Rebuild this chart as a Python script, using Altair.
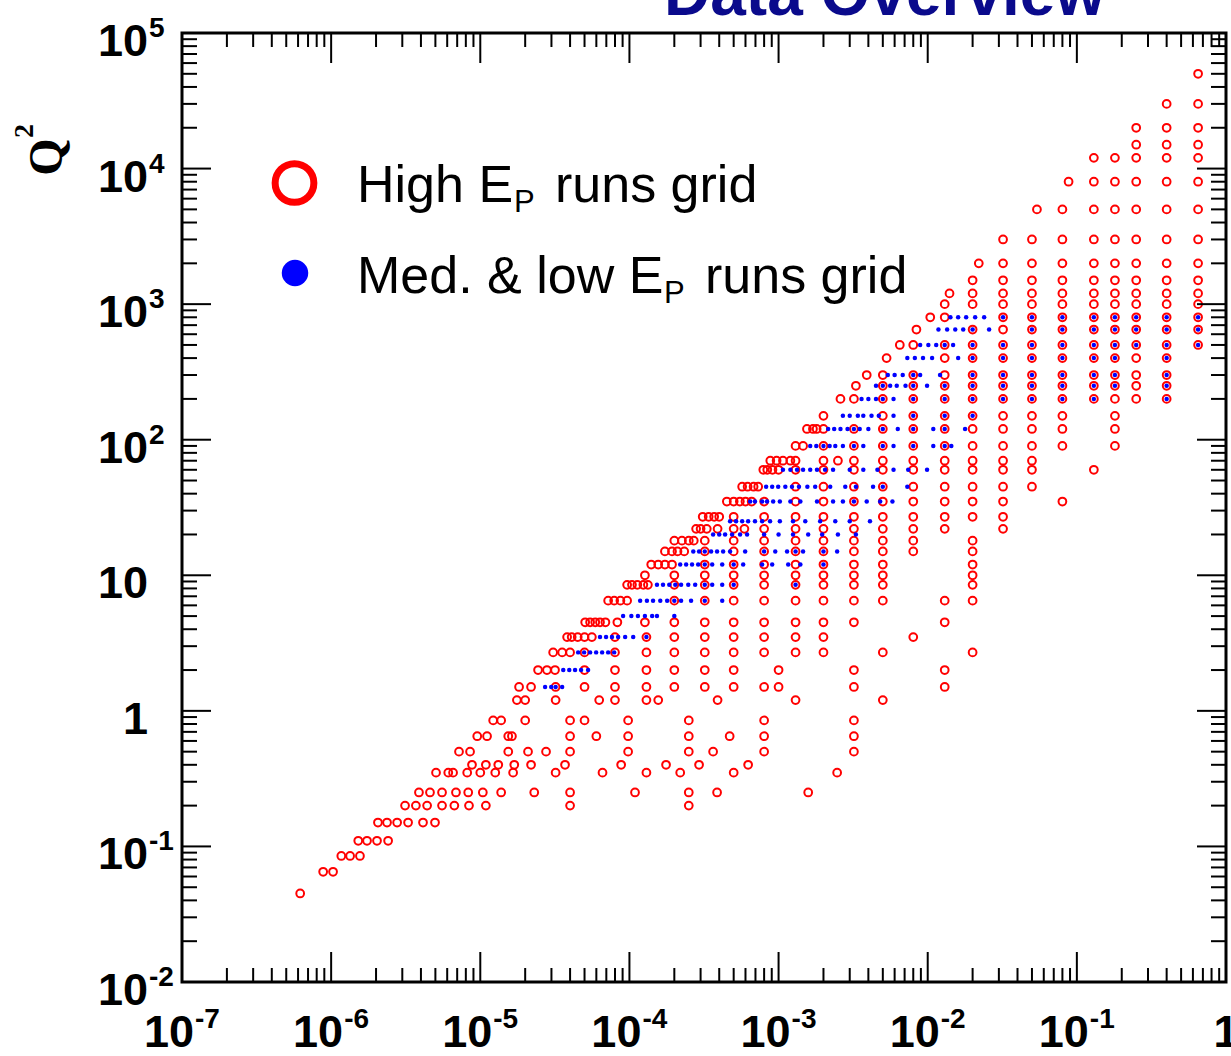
import altair as alt
import pandas as pd

# ---------------------------------------------------------------------------
# Kinematic grid: Q^2 rows with the Bjorken-x values measured in each row
# ---------------------------------------------------------------------------
HIGH_EP_TOP = [
    (50000, [0.65]),
    (30000, [0.4, 0.65]),
    (20000, [0.25, 0.4, 0.65]),
    (15000, [0.25, 0.4, 0.65]),
    (12000, [0.13, 0.18, 0.25, 0.4, 0.65]),
    (8000, [0.088, 0.13, 0.18, 0.25, 0.4, 0.65]),
    (5000, [0.054, 0.08, 0.13, 0.18, 0.25, 0.4, 0.65]),
    (3000, [0.032, 0.05, 0.08, 0.13, 0.18, 0.25, 0.4, 0.65]),
    (2000, [0.022, 0.032, 0.05, 0.08, 0.13, 0.18, 0.25, 0.4, 0.65]),
    (1500, [0.02, 0.032, 0.05, 0.08, 0.13, 0.18, 0.25, 0.4, 0.65]),
    (1200, [0.014, 0.02, 0.032, 0.05, 0.08, 0.13, 0.18, 0.25, 0.4, 0.65]),
    (1000, [0.013, 0.02, 0.032, 0.05, 0.08, 0.13, 0.18, 0.25, 0.4, 0.65]),
]

HIGH_EP_MIDDLE = [
    (800, [0.0104, 0.013, 0.032, 0.05, 0.08, 0.13, 0.18, 0.25, 0.4, 0.65]),
    (650, [0.0084, 0.02, 0.032, 0.05, 0.08, 0.13, 0.18, 0.25, 0.4, 0.65]),
    (500, [0.0065, 0.008, 0.013, 0.02, 0.032, 0.05, 0.08, 0.13, 0.18, 0.25, 0.4, 0.65]),
    (400, [0.0053, 0.013, 0.02, 0.032, 0.05, 0.08, 0.13, 0.18, 0.25, 0.4]),
    (300, [0.0039, 0.005, 0.008, 0.013, 0.02, 0.032, 0.05, 0.08, 0.13, 0.18, 0.25, 0.4]),
    (250, [0.0033, 0.005, 0.008, 0.013, 0.02, 0.032, 0.05, 0.08, 0.13, 0.18, 0.25, 0.4]),
    (200, [0.0026, 0.0032, 0.005, 0.008, 0.013, 0.02, 0.032, 0.05, 0.08, 0.13, 0.18, 0.25, 0.4]),
    (150, [0.002, 0.005, 0.008, 0.013, 0.02, 0.032, 0.05, 0.08, 0.18]),
    (120, [0.00155, 0.0017, 0.0018, 0.002, 0.0032, 0.005, 0.008, 0.013, 0.02, 0.032, 0.05, 0.08, 0.18]),
]

HIGH_EP_LOWER = [
    (90, [0.0013, 0.00146, 0.002, 0.0032, 0.005, 0.008, 0.013, 0.02, 0.032, 0.05, 0.08, 0.18]),
    (70, [0.00088, 0.00097, 0.00107, 0.0012, 0.0013, 0.002, 0.0025, 0.0032, 0.005, 0.008, 0.013, 0.02, 0.032, 0.05]),
    (60, [0.00079, 0.00084, 0.00091, 0.001, 0.0013, 0.002, 0.0032, 0.005, 0.008, 0.013, 0.02, 0.032, 0.05, 0.13]),
    (45, [0.00057, 0.00062, 0.00068, 0.00073, 0.0013, 0.002, 0.0032, 0.005, 0.008, 0.013, 0.02, 0.032, 0.05]),
    (35, [0.00045, 0.0005, 0.00055, 0.0006, 0.00066, 0.0008, 0.0013, 0.002, 0.0032, 0.005, 0.008, 0.013, 0.02, 0.032, 0.08]),
    (27, [0.00031, 0.00034, 0.00037, 0.0004, 0.0005, 0.0008, 0.0013, 0.002, 0.0032, 0.005, 0.008, 0.013, 0.02, 0.032]),
    (22, [0.00028, 0.0003, 0.00033, 0.00039, 0.0005, 0.00059, 0.0008, 0.0013, 0.002, 0.0032, 0.005, 0.008, 0.013, 0.032]),
    (18, [0.0002, 0.000225, 0.00025, 0.00027, 0.00032, 0.0005, 0.0008, 0.0013, 0.002, 0.0032, 0.005, 0.008, 0.02]),
    (15, [0.000173, 0.000193, 0.00021, 0.000233, 0.00032, 0.0005, 0.0008, 0.0013, 0.002, 0.0032, 0.005, 0.008, 0.02]),
    (12, [0.00014, 0.000156, 0.000173, 0.000193, 0.00032, 0.0005, 0.0008, 0.0013, 0.002, 0.0032, 0.005, 0.02]),
    (10, [0.000127, 0.0002, 0.00032, 0.0005, 0.0008, 0.0013, 0.002, 0.0032, 0.005, 0.02]),
]

HIGH_EP_LOWEST = [
    (8.5, [0.0000965, 0.000104, 0.000113, 0.000124, 0.000133, 0.0002, 0.00032, 0.0005, 0.0008, 0.0013, 0.002, 0.0032, 0.005, 0.02]),
    (6.5, [0.000072, 0.000079, 0.000087, 0.0000965, 0.0002, 0.00032, 0.0005, 0.0008, 0.0013, 0.002, 0.0032, 0.005, 0.013, 0.02]),
    (4.5, [0.0000505, 0.0000545, 0.000059, 0.0000635, 0.000069, 0.000083, 0.000127, 0.0002, 0.00032, 0.0005, 0.0008, 0.0013, 0.002, 0.0032, 0.013]),
    (3.5, [0.0000382, 0.000041, 0.000045, 0.00005, 0.000056, 0.00008, 0.00013, 0.0002, 0.00032, 0.0005, 0.0008, 0.0013, 0.002, 0.008]),
    (2.7, [0.0000308, 0.0000354, 0.00004, 0.00005, 0.00008, 0.00013, 0.0002, 0.00032, 0.0005, 0.0008, 0.0013, 0.002, 0.005, 0.02]),
    (2.0, [0.0000244, 0.000028, 0.0000317, 0.00005, 0.00008, 0.00013, 0.0002, 0.00032, 0.0005, 0.001, 0.0032, 0.013]),
    (1.5, [0.0000182, 0.0000219, 0.000032, 0.00005, 0.00008, 0.00013, 0.0002, 0.00032, 0.0005, 0.0008, 0.001, 0.0032, 0.013]),
    (1.2, [0.0000176, 0.00002, 0.000032, 0.0000627, 0.00008, 0.00013, 0.000156, 0.00039, 0.0013, 0.005]),
    (0.85, [0.0000122, 0.0000138, 0.00002, 0.00004, 0.00005, 0.000098, 0.00025, 0.0008, 0.0032]),
    (0.65, [0.00000954, 0.0000111, 0.0000154, 0.0000163, 0.00004, 0.00006, 0.000098, 0.00025, 0.00047, 0.0008, 0.0032]),
    (0.5, [0.0000072, 0.00000854, 0.0000154, 0.0000209, 0.0000276, 0.00004, 0.000098, 0.00025, 0.000364, 0.0008, 0.0032]),
    (0.4, [0.0000088, 0.0000109, 0.0000132, 0.0000169, 0.0000219, 0.000037, 0.000088, 0.000176, 0.000293, 0.000625]),
    (0.35, [0.00000505, 0.0000061, 0.00000657, 0.00000817, 0.00001, 0.0000126, 0.0000166, 0.000032, 0.000066, 0.00013, 0.000219, 0.0005, 0.00247]),
    (0.25, [0.00000388, 0.0000046, 0.00000554, 0.00000687, 0.0000083, 0.0000104, 0.0000138, 0.000023, 0.00004, 0.000109, 0.00025, 0.000387, 0.00158]),
    (0.2, [0.00000313, 0.0000037, 0.0000044, 0.00000554, 0.0000067, 0.0000084, 0.0000109, 0.00004, 0.00025]),
    (0.15, [0.00000206, 0.00000237, 0.00000277, 0.00000328, 0.00000413, 0.00000497]),
    (0.11, [0.00000152, 0.00000174, 0.00000203, 0.00000241]),
    (0.085, [0.00000117, 0.00000134, 0.00000156]),
    (0.065, [0.000000884, 0.00000103]),
    (0.045, [0.00000062]),
]

LOW_EP_UPPER = [
    (800, [0.0142, 0.016, 0.0181, 0.0208, 0.0239, 0.032, 0.05, 0.08, 0.13, 0.18, 0.25, 0.4, 0.65]),
    (650, [0.0118, 0.0135, 0.0153, 0.0173, 0.02, 0.0258, 0.05, 0.08, 0.13, 0.18, 0.25, 0.4, 0.65]),
    (500, [0.0089, 0.0101, 0.0114, 0.013, 0.0148, 0.02, 0.032, 0.05, 0.08, 0.13, 0.18, 0.25, 0.4, 0.65]),
    (400, [0.0073, 0.0082, 0.0093, 0.0107, 0.016, 0.02, 0.032, 0.05, 0.08, 0.13, 0.18, 0.4]),
    (300, [0.0054, 0.006, 0.0068, 0.008, 0.0089, 0.0121, 0.02, 0.032, 0.05, 0.08, 0.13, 0.18, 0.4]),
    (250, [0.0045, 0.005, 0.0056, 0.0062, 0.0071, 0.008, 0.0099, 0.013, 0.02, 0.032, 0.05, 0.08, 0.13, 0.18, 0.4]),
    (200, [0.0036, 0.004, 0.0045, 0.005, 0.0059, 0.008, 0.013, 0.02, 0.032, 0.05, 0.08, 0.13, 0.4]),
    (150, [0.0027, 0.003, 0.0034, 0.0037, 0.0042, 0.0047, 0.0059, 0.008, 0.013, 0.02]),
    (120, [0.00215, 0.00236, 0.0026, 0.0029, 0.0032, 0.0035, 0.004, 0.005, 0.0063, 0.008, 0.0109, 0.013, 0.0178]),
    (90, [0.00163, 0.00179, 0.002, 0.0022, 0.0024, 0.0027, 0.0032, 0.0037, 0.005, 0.0059, 0.008, 0.0109, 0.013, 0.0144]),
]

LOW_EP_LOWER = [
    (60, [0.00107, 0.0012, 0.00133, 0.00146, 0.00163, 0.00181, 0.00205, 0.00232, 0.003, 0.0037, 0.0046, 0.0059, 0.0074, 0.0099]),
    (45, [0.000825, 0.000906, 0.000994, 0.00111, 0.00123, 0.00137, 0.00156, 0.00176, 0.00222, 0.0028, 0.0033, 0.0043, 0.005, 0.0073]),
    (35, [0.000645, 0.000695, 0.000776, 0.000837, 0.00092, 0.00102, 0.0012, 0.0014, 0.00181, 0.00232, 0.0027, 0.0032, 0.0039, 0.0048, 0.0058]),
    (25, [0.000473, 0.000519, 0.00057, 0.000625, 0.000695, 0.000776, 0.000877, 0.00102, 0.00125, 0.00151, 0.0019, 0.0024, 0.003, 0.0041]),
    (20, [0.000364, 0.0004, 0.000438, 0.000488, 0.000552, 0.000615, 0.0008, 0.001, 0.00125, 0.00158, 0.00196, 0.0025, 0.0033]),
    (15, [0.000268, 0.000293, 0.00032, 0.000353, 0.000387, 0.000425, 0.000473, 0.000597, 0.0008, 0.00095, 0.00114, 0.0013, 0.00146, 0.002, 0.00247]),
    (12, [0.000219, 0.00024, 0.000263, 0.000289, 0.00032, 0.000359, 0.000419, 0.0005, 0.000579, 0.000776, 0.000906, 0.00116, 0.0014, 0.002]),
    (8.5, [0.000153, 0.000168, 0.000185, 0.000203, 0.000222, 0.000248, 0.000276, 0.00032, 0.000359, 0.000419, 0.0005, 0.0013]),
    (6.5, [0.000118, 0.000131, 0.000144, 0.000161, 0.000179, 0.0002, 0.000222, 0.000259, 0.00032, 0.000419]),
    (5.0, [0.0000907, 0.000103, 0.000114, 0.000127, 0.000142, 0.000153, 0.0002]),
    (3.5, [0.0000635, 0.0000697, 0.0000764, 0.000084, 0.0000936, 0.000106, 0.00013]),
    (2.7, [0.0000453, 0.0000497, 0.0000545, 0.0000598, 0.0000656, 0.000072, 0.000079]),
    (2.0, [0.000036, 0.0000395, 0.0000432, 0.0000474, 0.0000528]),
    (1.5, [0.0000272, 0.0000299, 0.000032, 0.0000354]),
]

# Axis decorations
X_DECADES = [1e-7, 1e-6, 1e-5, 1e-4, 1e-3, 1e-2, 1e-1, 1.0]
X_EXPONENTS = ["-7", "-6", "-5", "-4", "-3", "-2", "-1"]
Y_DECADES = [1e-2, 1e-1, 1.0, 10.0, 1e2, 1e3, 1e4, 1e5]
Y_BASES = ["10", "10", "1", "10", "10", "10", "10", "10"]
Y_EXPONENTS = ["-2", "-1", "", "", "2", "3", "4", "5"]
MINOR_STEPS = [2, 3, 4, 5, 6, 7, 8, 9]

W, H = 1044, 949
SANS = "Liberation Sans"
SERIF = "Liberation Serif"
RED = "#ff0000"
BLUE = "#0000ff"


def rows_to_frame(*groups):
    recs = []
    for group in groups:
        for q2, xs in group:
            for x in xs:
                recs.append({"x": x, "q2": q2})
    return pd.DataFrame(recs)


high_df = rows_to_frame(HIGH_EP_TOP, HIGH_EP_MIDDLE, HIGH_EP_LOWER, HIGH_EP_LOWEST)
low_df = rows_to_frame(LOW_EP_UPPER, LOW_EP_LOWER)

x_scale = alt.Scale(type="log", domain=[1e-7, 1.0], nice=False)
y_scale = alt.Scale(type="log", domain=[1e-2, 1e5], nice=False)
X = lambda f: alt.X(f, type="quantitative", scale=x_scale, axis=None)
Y = lambda f: alt.Y(f, type="quantitative", scale=y_scale, axis=None)

high = alt.Chart(high_df).mark_point(
    shape="circle", filled=False, color=RED, strokeWidth=2, size=60, opacity=1
).encode(x=X("x"), y=Y("q2"))

low = alt.Chart(low_df).mark_circle(color=BLUE, size=20, opacity=1).encode(
    x=X("x"), y=Y("q2")
)

# Inward-pointing tick marks on all four sides of the frame
x_major = pd.DataFrame({"v": X_DECADES})
x_minor = pd.DataFrame({"v": [m * d for d in X_DECADES[:-1] for m in MINOR_STEPS]})
y_major = pd.DataFrame({"v": Y_DECADES})
y_minor = pd.DataFrame({"v": [m * d for d in Y_DECADES[:-1] for m in MINOR_STEPS]})


def x_ticks(df, length):
    rule = alt.Chart(df).mark_rule(color="black", strokeWidth=2)
    return [
        rule.encode(x=X("v"), y=alt.value(H), y2=alt.value(H - length)),
        rule.encode(x=X("v"), y=alt.value(0), y2=alt.value(length)),
    ]


def y_ticks(df, length):
    rule = alt.Chart(df).mark_rule(color="black", strokeWidth=2)
    return [
        rule.encode(y=Y("v"), x=alt.value(0), x2=alt.value(length)),
        rule.encode(y=Y("v"), x=alt.value(W), x2=alt.value(W - length)),
    ]


ticks = x_ticks(x_major, 30) + x_ticks(x_minor, 14) + y_ticks(y_major, 29) + y_ticks(y_minor, 15)

# Tick labels: "10" with a raised exponent
xlab = pd.DataFrame({"v": X_DECADES[:-1], "base": ["10"] * 7, "exp": X_EXPONENTS})
x_base = alt.Chart(xlab).mark_text(
    align="right", baseline="alphabetic", dx=12, font=SANS, fontSize=45, fontWeight="bold", color="black"
).encode(x=X("v"), y=alt.value(H + 65), text="base:N")
x_exp = alt.Chart(xlab).mark_text(
    align="left", baseline="alphabetic", dx=13, font=SANS, fontSize=28, fontWeight="bold", color="black"
).encode(x=X("v"), y=alt.value(H + 46), text="exp:N")
x_one = alt.Chart(pd.DataFrame({"v": [1.0], "t": ["1"]})).mark_text(
    align="center", baseline="alphabetic", font=SANS, fontSize=45, fontWeight="bold", color="black"
).encode(x=X("v"), y=alt.value(H + 65), text="t:N")

ylab = pd.DataFrame({"v": Y_DECADES, "base": Y_BASES, "exp": Y_EXPONENTS})
y_base = alt.Chart(ylab).mark_text(
    align="right", baseline="alphabetic", dy=23, font=SANS, fontSize=45, fontWeight="bold", color="black"
).encode(y=Y("v"), x=alt.value(-34), text="base:N")
y_exp = alt.Chart(ylab).mark_text(
    align="left", baseline="alphabetic", dy=4, font=SANS, fontSize=28, fontWeight="bold", color="black"
).encode(y=Y("v"), x=alt.value(-33), text="exp:N")

# Axis title Q^2 (rotated, serif)
q_title = alt.Chart(pd.DataFrame({"t": ["Q"]})).mark_text(
    angle=270, align="center", baseline="alphabetic", font=SERIF, fontSize=48, fontWeight="bold", color="black"
).encode(x=alt.value(-120), y=alt.value(124), text="t:N")
q_sup = alt.Chart(pd.DataFrame({"t": ["2"]})).mark_text(
    angle=270, align="center", baseline="alphabetic", font=SERIF, fontSize=28, fontWeight="bold", color="black"
).encode(x=alt.value(-149), y=alt.value(98), text="t:N")

# Legend
leg_ring = alt.Chart(pd.DataFrame({"k": ["high"]})).mark_point(
    shape="circle", filled=False, color=RED, strokeWidth=7, size=1500, opacity=1
).encode(x=alt.value(112.5), y=alt.value(150))
leg_dot = alt.Chart(pd.DataFrame({"k": ["low"]})).mark_circle(
    color=BLUE, size=700, opacity=1
).encode(x=alt.value(113), y=alt.value(240))

legend_parts = pd.DataFrame(
    {
        "t": ["High E", "P", "runs grid", "Med. & low E", "P", "runs grid"],
        "px": [175, 332, 373, 175, 482, 523],
        "py": [169, 179, 169, 260, 270, 260],
        "fs": [52, 31, 52, 52, 31, 52],
    }
)
legend_text = alt.Chart(legend_parts).mark_text(
    align="left", baseline="alphabetic", font=SANS, color="black"
).encode(
    x=alt.X("px:Q", scale=None),
    y=alt.Y("py:Q", scale=None),
    text="t:N",
    size=alt.Size("fs:Q", scale=None, legend=None),
)

# Slide heading above the frame (only its lower edge is inside the page)
heading = alt.Chart(pd.DataFrame({"t": ["Data Overview"]})).mark_text(
    align="left", baseline="alphabetic", font=SANS, fontSize=64, fontWeight="bold", color="#0a0a8c"
).encode(x=alt.value(482), y=alt.value(-18), text="t:N")

chart = alt.layer(
    high, low, *ticks, x_base, x_exp, x_one, y_base, y_exp, q_title, q_sup,
    leg_ring, leg_dot, legend_text, heading
).properties(
    width=W,
    height=H,
    padding={"left": 182, "top": 33, "right": 5, "bottom": 74},
    autosize=alt.AutoSizeParams(type="none"),
    background="white",
).configure_view(stroke="black", strokeWidth=3)

chart.save("out.html", embed_options={"renderer": "svg", "actions": False})
